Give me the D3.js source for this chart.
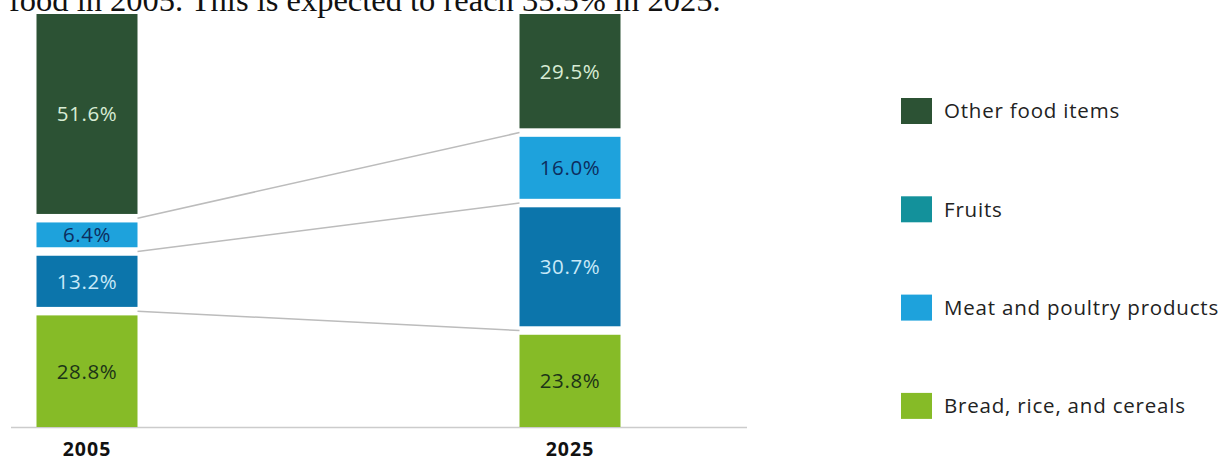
<!DOCTYPE html>
<html>
<head>
<meta charset="utf-8">
<script src="https://cdn.jsdelivr.net/npm/d3@7"></script>
<style>
  html, body { margin: 0; padding: 0; background: #fff; }
  svg { display: block; }
</style>
</head>
<body>
<svg id="chart" width="1225" height="459"></svg>
<script>
// data, bottom of stack first
const years = ['2005', '2025'];
const categories = ['Bread, rice, and cereals', 'Meat and poultry products', 'Fruits', 'Other food items'];
const share2005 = [28.8, 13.2, 6.4, 51.6];
const share2025 = [23.8, 30.7, 16.0, 29.5];
const barColors = ['#86bb27', '#0c75ab', '#1ea2dc', '#2c5234'];
const labelColors = ['#1c3417', '#c8e9f8', '#0d2d5e', '#d8ecd4'];
const legendColors = ['#86bb27', '#1ea2dc', '#13919b', '#2c5234'];
const caption = 'food in 2005.  This is expected to reach 35.5% in 2025.';

const svg = d3.select('#chart');
const baseY = 427;
const topY = 14;
const gap = 8.5;
const barWidth = 101;
const values = { '2005': share2005, '2025': share2025 };

// cut-off sentence from the page above the chart
svg.append('text')
  .attr('x', 9)
  .attr('y', 11)
  .attr('font-family', '"Liberation Serif", "Times New Roman", serif')
  .attr('font-size', 32.5)
  .attr('fill', '#111')
  .text(caption);

const x = d3.scalePoint().domain(years).range([87, 570]);
const h = d3.scaleLinear().domain([0, 100]).range([0, baseY - topY - gap * (categories.length - 1)]);

// stack segments with white gaps between them
const stacked = {};
years.forEach((yr) => {
  let y = baseY;
  stacked[yr] = values[yr].map((v, i) => {
    const y1 = y;
    const y0 = y - h(v);
    y = y0 - gap;
    return { year: yr, value: v, index: i, y0: y0, y1: y1 };
  });
});

// connector lines through the gaps
const links = d3.range(categories.length - 1).map((i) => ({
  a: stacked['2005'][i].y0 - gap / 2,
  b: stacked['2025'][i].y0 - gap / 2
}));
svg.append('g').selectAll('line')
  .data(links)
  .enter().append('line')
  .attr('x1', x('2005') + barWidth / 2)
  .attr('x2', x('2025') - barWidth / 2)
  .attr('y1', d => d.a)
  .attr('y2', d => d.b)
  .attr('stroke', '#bcbcbc')
  .attr('stroke-width', 1.5);

// baseline
svg.append('line')
  .attr('x1', 11).attr('x2', 747)
  .attr('y1', baseY + 0.5).attr('y2', baseY + 0.5)
  .attr('stroke', '#cccccc')
  .attr('stroke-width', 1.5);

const bars = svg.append('g');
years.forEach((yr) => {
  const seg = bars.selectAll(`.seg-${yr}`)
    .data(stacked[yr])
    .enter().append('g')
    .attr('class', `seg-${yr}`);
  seg.append('rect')
    .attr('x', x(yr) - barWidth / 2)
    .attr('y', d => d.y0)
    .attr('width', barWidth)
    .attr('height', d => d.y1 - d.y0)
    .attr('fill', d => barColors[d.index]);
  seg.append('text')
    .attr('x', x(yr))
    .attr('y', d => (d.y0 + d.y1) / 2)
    .attr('dy', '0.36em')
    .attr('text-anchor', 'middle')
    .attr('font-family', '"Open Sans", sans-serif')
    .attr('font-size', 20.5)
    .attr('letter-spacing', 0.6)
    .attr('fill', d => labelColors[d.index])
    .text(d => d.value.toFixed(1) + '%');
});

// year labels
svg.append('g').selectAll('text')
  .data(years)
  .enter().append('text')
  .attr('x', d => x(d))
  .attr('y', 456)
  .attr('text-anchor', 'middle')
  .attr('font-family', '"Open Sans", sans-serif')
  .attr('font-weight', 700)
  .attr('font-size', 19.5)
  .attr('letter-spacing', 1)
  .attr('fill', '#111')
  .text(d => d);

// legend, top row is the top of the stack
const legendOrder = categories.map((c, i) => i).reverse();
const legend = svg.append('g').selectAll('g')
  .data(legendOrder)
  .enter().append('g')
  .attr('transform', (d, i) => `translate(901,${98 + i * 98.3})`);
legend.append('rect')
  .attr('width', 31)
  .attr('height', 26)
  .attr('fill', d => legendColors[d]);
legend.append('text')
  .attr('x', 43)
  .attr('y', 13)
  .attr('dy', '0.36em')
  .attr('font-family', '"Open Sans", sans-serif')
  .attr('font-size', 20.5)
  .attr('letter-spacing', 0.8)
  .attr('fill', '#222')
  .text(d => categories[d]);
</script>
</body>
</html>
